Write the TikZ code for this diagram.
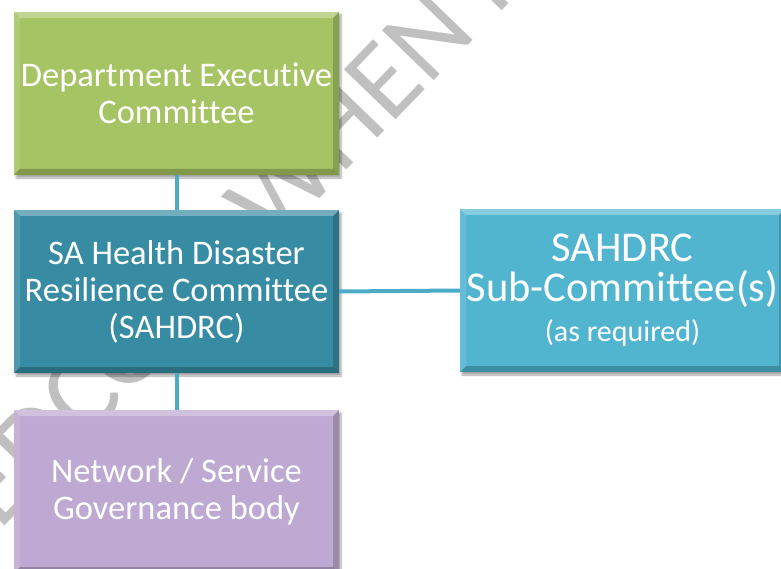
\documentclass[tikz,border=0pt]{standalone}
\usepackage{fontspec}
\setmainfont{Carlito}[Ligatures=NoCommon]
\usetikzlibrary{shadows.blur}
\definecolor{decgreen}{RGB}{166,196,99}
\definecolor{sateal}{RGB}{55,140,163}
\definecolor{subblue}{RGB}{82,181,208}
\definecolor{netpurple}{RGB}{189,169,209}
\definecolor{linkblue}{RGB}{75,172,198}
\definecolor{wmgray}{RGB}{192,192,192}
\tikzset{
  bevel/.style={path picture={
    \fill[white,opacity=.30] (path picture bounding box.north west) -- (path picture bounding box.north east)
      -- ([shift={(-6pt,-6pt)}]path picture bounding box.north east) -- ([shift={(6pt,-6pt)}]path picture bounding box.north west) -- cycle;
    \fill[white,opacity=.12] (path picture bounding box.north west) -- (path picture bounding box.south west)
      -- ([shift={(6pt,6pt)}]path picture bounding box.south west) -- ([shift={(6pt,-6pt)}]path picture bounding box.north west) -- cycle;
    \fill[black,opacity=.18] (path picture bounding box.north east) -- (path picture bounding box.south east)
      -- ([shift={(-6pt,6pt)}]path picture bounding box.south east) -- ([shift={(-6pt,-6pt)}]path picture bounding box.north east) -- cycle;
    \fill[black,opacity=.22] (path picture bounding box.south west) -- (path picture bounding box.south east)
      -- ([shift={(-6pt,6pt)}]path picture bounding box.south east) -- ([shift={(6pt,6pt)}]path picture bounding box.south west) -- cycle;
  }},
  orgbox/.style={minimum width=325pt, minimum height=163pt, inner sep=0pt, align=center,
    text=white, font=\fontsize{34.5}{37}\selectfont,
    blur shadow={shadow xshift=2pt, shadow yshift=-3pt, shadow blur steps=6, shadow opacity=35}, bevel},
  link/.style={draw=linkblue, line width=4pt},
  wm/.style={text=wmgray, font=\fontsize{112}{112}\selectfont, rotate=46, inner sep=0pt}
}
\begin{document}
\begin{tikzpicture}[x=1pt,y=-1pt]
\useasboundingbox (0,0) rectangle (781,569);
\clip (0,0) rectangle (781,569);
% watermark
\coordinate (wmbase) at (85,442);
\node[wm, anchor=base west] (wmb) at (wmbase) {COPY WHEN PRINTED};
\node[wm, anchor=base east] (wma) at (wmb.base west) {UNCONTROLLED\ };
% boxes
\node[orgbox, fill=decgreen] (dec) at (176.5,93.5) {Department Executive\\Committee};
\node[orgbox, fill=sateal] (sahdrc) at (176.5,291.5) {SA Health Disaster\\Resilience Committee\\(SAHDRC)};
\node[orgbox, fill=netpurple] (net) at (176.5,491.5) {Network / Service\\Governance body};
\node[orgbox, fill=subblue, font=\fontsize{42.5}{40}\selectfont] (sub) at (622.5,290.5)
  {SAHDRC\\Sub-Committee(s)\\{\fontsize{30}{31}\selectfont(as required)}};
% connectors
\draw[link] (dec.south) -- (sahdrc.north);
\draw[link] (sahdrc.south) -- (net.north);
\draw[link] (sahdrc.east) -- (sub.west);
\end{tikzpicture}
\end{document}
